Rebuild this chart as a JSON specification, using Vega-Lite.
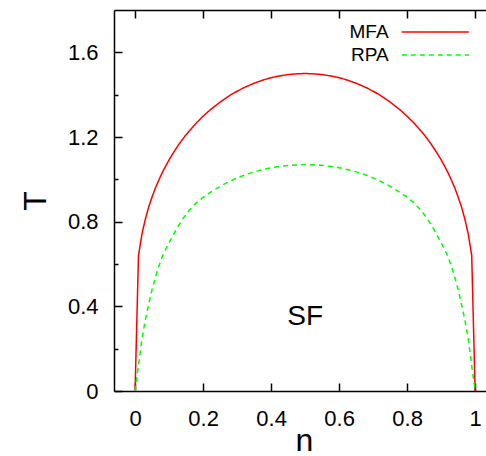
{
  "$schema": "https://vega.github.io/schema/vega-lite/v6.json",
  "width": 372,
  "height": 381,
  "autosize": {"type": "none"},
  "padding": {"left": 114, "top": 10, "right": 0, "bottom": 65},
  "background": "white",
  "config": {
    "view": {"stroke": null},
    "font": "Liberation Sans",
    "axis": {
      "grid": false,
      "domainColor": "black",
      "tickColor": "black",
      "labelColor": "black",
      "titleColor": "black",
      "labelFont": "Liberation Sans",
      "titleFont": "Liberation Sans",
      "titleFontWeight": "normal",
      "domainWidth": 1.5,
      "tickWidth": 1.5,
      "labelFontSize": 22,
      "titleFontSize": 32,
      "labelFlush": false,
      "labelOverlap": false
    },
    "legend": {
      "orient": "none",
      "legendX": 311.8,
      "legendY": 12.5,
      "symbolType": "M-5,0H5",
      "symbolSize": 180,
      "symbolStrokeWidth": 1.5,
      "labelFont": "Liberation Sans",
      "labelFontSize": 19,
      "labelColor": "black",
      "labelAlign": "right",
      "labelOffset": -56.2,
      "rowPadding": 3,
      "padding": 0
    }
  },
  "resolve": {"axis": {"x": "independent", "y": "independent"}},
  "layer": [
    {
      "data": {
        "values": [
          {"n": 0.0, "T": 0.0, "model": "MFA"},
          {"n": 0.01, "T": 0.640, "model": "MFA"},
          {"n": 0.02, "T": 0.740, "model": "MFA"},
          {"n": 0.03, "T": 0.811, "model": "MFA"},
          {"n": 0.04, "T": 0.869, "model": "MFA"},
          {"n": 0.05, "T": 0.917, "model": "MFA"},
          {"n": 0.06, "T": 0.960, "model": "MFA"},
          {"n": 0.07, "T": 0.997, "model": "MFA"},
          {"n": 0.08, "T": 1.032, "model": "MFA"},
          {"n": 0.09, "T": 1.063, "model": "MFA"},
          {"n": 0.10, "T": 1.092, "model": "MFA"},
          {"n": 0.11, "T": 1.119, "model": "MFA"},
          {"n": 0.12, "T": 1.144, "model": "MFA"},
          {"n": 0.13, "T": 1.168, "model": "MFA"},
          {"n": 0.14, "T": 1.190, "model": "MFA"},
          {"n": 0.15, "T": 1.211, "model": "MFA"},
          {"n": 0.16, "T": 1.230, "model": "MFA"},
          {"n": 0.18, "T": 1.266, "model": "MFA"},
          {"n": 0.20, "T": 1.298, "model": "MFA"},
          {"n": 0.22, "T": 1.327, "model": "MFA"},
          {"n": 0.25, "T": 1.365, "model": "MFA"},
          {"n": 0.28, "T": 1.398, "model": "MFA"},
          {"n": 0.30, "T": 1.416, "model": "MFA"},
          {"n": 0.32, "T": 1.433, "model": "MFA"},
          {"n": 0.35, "T": 1.454, "model": "MFA"},
          {"n": 0.38, "T": 1.471, "model": "MFA"},
          {"n": 0.40, "T": 1.480, "model": "MFA"},
          {"n": 0.42, "T": 1.487, "model": "MFA"},
          {"n": 0.45, "T": 1.495, "model": "MFA"},
          {"n": 0.47, "T": 1.498, "model": "MFA"},
          {"n": 0.50, "T": 1.500, "model": "MFA"},
          {"n": 0.53, "T": 1.498, "model": "MFA"},
          {"n": 0.55, "T": 1.495, "model": "MFA"},
          {"n": 0.58, "T": 1.487, "model": "MFA"},
          {"n": 0.60, "T": 1.480, "model": "MFA"},
          {"n": 0.62, "T": 1.471, "model": "MFA"},
          {"n": 0.65, "T": 1.454, "model": "MFA"},
          {"n": 0.68, "T": 1.433, "model": "MFA"},
          {"n": 0.70, "T": 1.416, "model": "MFA"},
          {"n": 0.72, "T": 1.398, "model": "MFA"},
          {"n": 0.75, "T": 1.365, "model": "MFA"},
          {"n": 0.78, "T": 1.327, "model": "MFA"},
          {"n": 0.80, "T": 1.298, "model": "MFA"},
          {"n": 0.82, "T": 1.266, "model": "MFA"},
          {"n": 0.84, "T": 1.230, "model": "MFA"},
          {"n": 0.85, "T": 1.211, "model": "MFA"},
          {"n": 0.86, "T": 1.190, "model": "MFA"},
          {"n": 0.87, "T": 1.168, "model": "MFA"},
          {"n": 0.88, "T": 1.144, "model": "MFA"},
          {"n": 0.89, "T": 1.119, "model": "MFA"},
          {"n": 0.90, "T": 1.092, "model": "MFA"},
          {"n": 0.91, "T": 1.063, "model": "MFA"},
          {"n": 0.92, "T": 1.032, "model": "MFA"},
          {"n": 0.93, "T": 0.997, "model": "MFA"},
          {"n": 0.94, "T": 0.960, "model": "MFA"},
          {"n": 0.95, "T": 0.917, "model": "MFA"},
          {"n": 0.96, "T": 0.869, "model": "MFA"},
          {"n": 0.97, "T": 0.811, "model": "MFA"},
          {"n": 0.98, "T": 0.740, "model": "MFA"},
          {"n": 0.99, "T": 0.640, "model": "MFA"},
          {"n": 1.0, "T": 0.0, "model": "MFA"},
          {"n": 0.0, "T": 0.0, "model": "RPA"},
          {"n": 0.01, "T": 0.120, "model": "RPA"},
          {"n": 0.02, "T": 0.245, "model": "RPA"},
          {"n": 0.03, "T": 0.335, "model": "RPA"},
          {"n": 0.04, "T": 0.410, "model": "RPA"},
          {"n": 0.05, "T": 0.480, "model": "RPA"},
          {"n": 0.06, "T": 0.538, "model": "RPA"},
          {"n": 0.07, "T": 0.590, "model": "RPA"},
          {"n": 0.08, "T": 0.635, "model": "RPA"},
          {"n": 0.09, "T": 0.670, "model": "RPA"},
          {"n": 0.10, "T": 0.700, "model": "RPA"},
          {"n": 0.12, "T": 0.760, "model": "RPA"},
          {"n": 0.14, "T": 0.813, "model": "RPA"},
          {"n": 0.16, "T": 0.855, "model": "RPA"},
          {"n": 0.18, "T": 0.889, "model": "RPA"},
          {"n": 0.20, "T": 0.915, "model": "RPA"},
          {"n": 0.22, "T": 0.937, "model": "RPA"},
          {"n": 0.25, "T": 0.967, "model": "RPA"},
          {"n": 0.28, "T": 0.992, "model": "RPA"},
          {"n": 0.30, "T": 1.007, "model": "RPA"},
          {"n": 0.33, "T": 1.025, "model": "RPA"},
          {"n": 0.36, "T": 1.040, "model": "RPA"},
          {"n": 0.40, "T": 1.055, "model": "RPA"},
          {"n": 0.45, "T": 1.066, "model": "RPA"},
          {"n": 0.50, "T": 1.070, "model": "RPA"},
          {"n": 0.55, "T": 1.066, "model": "RPA"},
          {"n": 0.60, "T": 1.055, "model": "RPA"},
          {"n": 0.64, "T": 1.040, "model": "RPA"},
          {"n": 0.67, "T": 1.025, "model": "RPA"},
          {"n": 0.70, "T": 1.007, "model": "RPA"},
          {"n": 0.72, "T": 0.992, "model": "RPA"},
          {"n": 0.75, "T": 0.967, "model": "RPA"},
          {"n": 0.78, "T": 0.937, "model": "RPA"},
          {"n": 0.80, "T": 0.915, "model": "RPA"},
          {"n": 0.82, "T": 0.889, "model": "RPA"},
          {"n": 0.84, "T": 0.855, "model": "RPA"},
          {"n": 0.86, "T": 0.813, "model": "RPA"},
          {"n": 0.88, "T": 0.760, "model": "RPA"},
          {"n": 0.90, "T": 0.700, "model": "RPA"},
          {"n": 0.91, "T": 0.670, "model": "RPA"},
          {"n": 0.92, "T": 0.635, "model": "RPA"},
          {"n": 0.93, "T": 0.590, "model": "RPA"},
          {"n": 0.94, "T": 0.538, "model": "RPA"},
          {"n": 0.95, "T": 0.480, "model": "RPA"},
          {"n": 0.96, "T": 0.410, "model": "RPA"},
          {"n": 0.97, "T": 0.335, "model": "RPA"},
          {"n": 0.98, "T": 0.245, "model": "RPA"},
          {"n": 0.99, "T": 0.120, "model": "RPA"},
          {"n": 1.0, "T": 0.0, "model": "RPA"}
        ]
      },
      "mark": {"type": "line", "strokeWidth": 1.5, "clip": true},
      "encoding": {
        "x": {
          "field": "n", "type": "quantitative",
          "scale": {"domain": [-0.062, 1.032], "nice": false, "zero": false},
          "axis": {
            "orient": "bottom",
            "values": [0, 0.2, 0.4, 0.6, 0.8, 1],
            "format": "~g",
            "tickSize": -8,
            "labelPadding": 42,
            "labelBaseline": "alphabetic",
            "title": "n",
            "titleX": 190,
            "titleY": 59,
            "titleAlign": "center",
            "titleBaseline": "alphabetic"
          }
        },
        "y": {
          "field": "T", "type": "quantitative",
          "scale": {"domain": [0, 1.8], "nice": false},
          "axis": {
            "orient": "left",
            "values": [0, 0.4, 0.8, 1.2, 1.6],
            "format": "~g",
            "tickSize": -8,
            "labelPadding": 24,
            "title": "T",
            "titleX": -69,
            "titleY": 190.5,
            "titleAngle": -90,
            "titleAlign": "center",
            "titleBaseline": "alphabetic"
          }
        },
        "color": {
          "field": "model", "type": "nominal",
          "scale": {"domain": ["MFA", "RPA"], "range": ["#ff0000", "#00ff00"]},
          "legend": {"title": null}
        },
        "strokeDash": {
          "field": "model", "type": "nominal",
          "scale": {"domain": ["MFA", "RPA"], "range": [[1, 0], [5, 4]]},
          "legend": {"title": null}
        }
      }
    },
    {
      "data": {"values": [{"n": 0.5, "T": 0.312, "label": "SF"}]},
      "mark": {"type": "text", "fontSize": 28, "font": "Liberation Sans", "color": "black", "align": "center", "baseline": "alphabetic"},
      "encoding": {
        "x": {
          "field": "n", "type": "quantitative",
          "axis": {
            "orient": "top",
            "values": [0, 0.2, 0.4, 0.6, 0.8, 1],
            "labels": false,
            "tickSize": -8,
            "title": null
          }
        },
        "y": {
          "field": "T", "type": "quantitative",
          "axis": {
            "orient": "left",
            "values": [0.2, 0.6, 1.0, 1.4],
            "labels": false,
            "domain": false,
            "tickSize": -4,
            "title": null
          }
        },
        "text": {"field": "label"}
      }
    }
  ]
}
